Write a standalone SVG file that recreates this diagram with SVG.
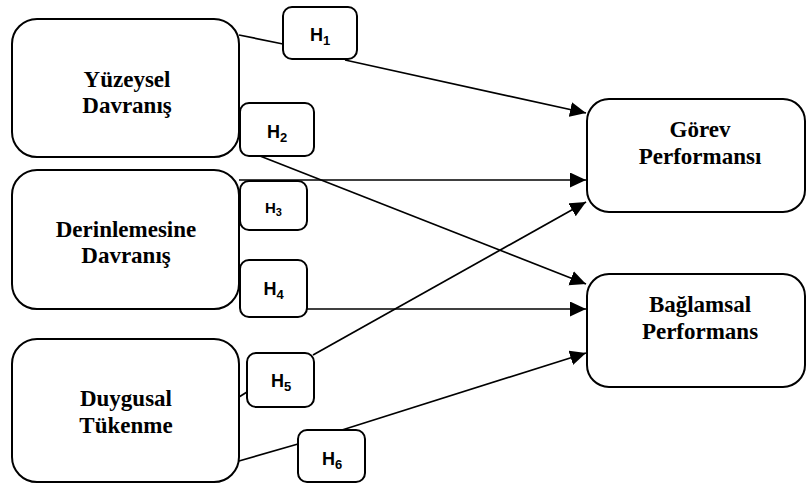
<svg xmlns="http://www.w3.org/2000/svg" width="807" height="484" viewBox="0 0 807 484">
<style>
.box{fill:#fff;stroke:#000;stroke-width:2}
.hb{fill:#fff;stroke:#000;stroke-width:2}
.lbl{font-family:"Liberation Serif","Times New Roman",serif;font-weight:bold;font-size:23px;text-anchor:middle;fill:#000}
.h{font-family:"Liberation Sans",Arial,sans-serif;font-weight:bold;font-size:18px;text-anchor:middle;fill:#000}
.sub{font-size:13px}
.ln{stroke:#000;stroke-width:1.7;fill:none}
.ar{marker-end:url(#arr)}
</style>
<defs>
<marker id="arr" markerUnits="userSpaceOnUse" markerWidth="18" markerHeight="16" refX="16" refY="7.5" orient="auto">
<path d="M0,0 L16,7.5 L0,15 Z" fill="#000"/>
</marker>
</defs>
<g id="connectors">
<line class="ln" x1="239" y1="35" x2="283" y2="44"/>
<line class="ln ar" x1="345" y1="60" x2="586" y2="113"/>
<line class="ln ar" x1="260" y1="156" x2="586" y2="284"/>
<line class="ln ar" x1="239" y1="180" x2="586" y2="180"/>
<line class="ln ar" x1="307" y1="309" x2="586" y2="309"/>
<line class="ln" x1="239" y1="397" x2="247" y2="392"/>
<line class="ln ar" x1="313" y1="355" x2="586" y2="202"/>
<line class="ln" x1="239" y1="461" x2="298" y2="444"/>
<line class="ln ar" x1="342" y1="430" x2="586" y2="353"/>
</g>
<g id="yuzeysel">
<rect class="box" x="12" y="19" width="227" height="138" rx="25"/>
<text class="lbl" x="127" y="87">Yüzeysel</text>
<text class="lbl" x="127" y="113">Davranış</text>
</g>
<g id="derinlemesine">
<rect class="box" x="12" y="170" width="227" height="139" rx="25"/>
<text class="lbl" x="126" y="237">Derinlemesine</text>
<text class="lbl" x="126" y="263">Davranış</text>
</g>
<g id="duygusal">
<rect class="box" x="12" y="339" width="227" height="143" rx="25"/>
<text class="lbl" x="126" y="406">Duygusal</text>
<text class="lbl" x="126" y="433">Tükenme</text>
</g>
<g id="gorev">
<rect class="box" x="587" y="99" width="218" height="113" rx="22"/>
<text class="lbl" x="700" y="137">Görev</text>
<text class="lbl" x="700" y="164">Performansı</text>
</g>
<g id="baglamsal">
<rect class="box" x="587" y="274" width="218" height="113" rx="22"/>
<text class="lbl" x="700" y="312">Bağlamsal</text>
<text class="lbl" x="700" y="339">Performans</text>
</g>
<g id="h1">
<rect class="hb" x="283" y="7" width="74" height="52" rx="9"/>
<text class="h" x="320" y="41">H<tspan class="sub" dy="4">1</tspan></text>
</g>
<g id="h2">
<rect class="hb" x="240" y="103" width="74" height="53" rx="9"/>
<text class="h" x="277" y="138">H<tspan class="sub" dy="4">2</tspan></text>
</g>
<g id="h3">
<rect class="hb" x="240" y="181" width="67" height="49" rx="9"/>
<text class="h" x="273.5" y="213" style="font-size:15px">H<tspan style="font-size:11px" dy="3">3</tspan></text>
</g>
<g id="h4">
<rect class="hb" x="240" y="260" width="67" height="57" rx="9"/>
<text class="h" x="273.5" y="295">H<tspan class="sub" dy="4">4</tspan></text>
</g>
<g id="h5">
<rect class="hb" x="247" y="353" width="67" height="54" rx="9"/>
<text class="h" x="281" y="387">H<tspan class="sub" dy="4">5</tspan></text>
</g>
<g id="h6">
<rect class="hb" x="298" y="430" width="67" height="52" rx="9"/>
<text class="h" x="332" y="465">H<tspan class="sub" dy="4">6</tspan></text>
</g>
</svg>
